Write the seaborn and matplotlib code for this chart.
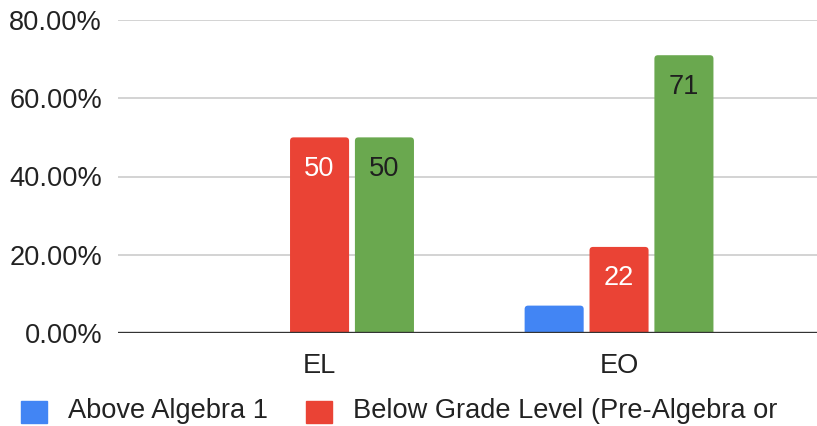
import matplotlib
matplotlib.use("Agg")
import matplotlib.pyplot as plt
import seaborn as sns
import pandas as pd
from matplotlib.patches import FancyBboxPatch
from matplotlib.ticker import FixedLocator, FuncFormatter

# Share of students by math placement, per language group
categories = ["EL", "EO"]
series_names = [
    "Above Algebra 1",
    "Below Grade Level (Pre-Algebra or lower)",
    "At Grade Level (Algebra 1)",
]
above_algebra = [0, 7]
below_grade = [50, 22]
at_grade = [50, 71]
series_values = [above_algebra, below_grade, at_grade]
series_colors = ["#4285F4", "#EA4335", "#6AA84F"]
label_colors = [None, "#FFFFFF", "#1F1F1F"]   # None: value not printed
y_ticks = [0, 20, 40, 60, 80]

rows = []
for name, vals in zip(series_names, series_values):
    for cat, v in zip(categories, vals):
        rows.append({"group": cat, "series": name, "pct": v})
df = pd.DataFrame(rows)

sns.set_theme(style="white")
plt.rcParams["font.family"] = ["Liberation Sans", "DejaVu Sans"]
FS = 19.6
TEXT = "#222222"

W, H = 817, 426
fig = plt.figure(figsize=(W / 100, H / 100), dpi=100)
ax = fig.add_axes([118 / W, 1 - 333 / H, 1 - 118 / W, (333 - 20) / H])

sns.barplot(
    data=df, x="group", y="pct", hue="series",
    hue_order=series_names, order=categories,
    palette=series_colors, saturation=1,
    width=0.65, gap=0.09, legend=False, ax=ax, zorder=2,
)

XMIN, XMAX, YMAX = -0.673, 1.661, 80
ax.set_xlim(XMIN, XMAX)
ax.set_ylim(0, YMAX)

# swap the plain bars for ones with slightly rounded tops
ax_w_px = W * (1 - 118 / W)
ax_h_px = 333 - 20
x_per_px = (XMAX - XMIN) / ax_w_px
y_per_px = YMAX / ax_h_px
radius = 3.5 * x_per_px
for container in ax.containers:
    for bar in container:
        if bar.get_height() <= 0:
            continue
        x0, w, h = bar.get_x(), bar.get_width(), bar.get_height()
        extra = 5 * y_per_px  # tucked below the baseline, clipped away
        rounded = FancyBboxPatch(
            (x0, -extra), w, h + extra,
            boxstyle=f"round,pad=0,rounding_size={radius}",
            mutation_aspect=y_per_px / x_per_px,
            facecolor=bar.get_facecolor(), edgecolor="none",
            zorder=2, clip_on=True,
        )
        ax.add_patch(rounded)
        bar.set_visible(False)

# value labels inside the top of the bars
for container, vals, col in zip(ax.containers, series_values, label_colors):
    if col is None:
        continue
    for bar, v in zip(container, vals):
        ax.annotate(
            f"{v:.0f}",
            xy=(bar.get_x() + bar.get_width() / 2, v),
            xytext=(0, -18.5 * 0.72), textcoords="offset points",
            ha="center", va="top", fontsize=FS, color=col, zorder=4,
        )

ax.yaxis.set_major_locator(FixedLocator(y_ticks))
ax.yaxis.set_major_formatter(FuncFormatter(lambda v, _: f"{v:.2f}%"))
ax.yaxis.grid(True, color="#CCCCCC", linewidth=1.2, zorder=0)
ax.set_axisbelow(True)
ax.axhline(0, color="#333333", linewidth=1.7, zorder=3)
for s in ax.spines.values():
    s.set_visible(False)
ax.tick_params(axis="y", length=0, pad=11.5, labelsize=FS, labelcolor=TEXT)
ax.tick_params(axis="x", length=0, pad=14.5, labelsize=FS, labelcolor=TEXT)
ax.set_xlabel("")
ax.set_ylabel("")

# legend along the bottom edge: two entries per row, long labels wrap;
# the first row's labels share the same three-line layout so they line up
handles = [plt.Rectangle((0, 0), 1, 1, color=c) for c in series_colors]
labels = [
    "\n" + series_names[0] + "\n",
    "\nBelow Grade Level (Pre-Algebra or\nlower)",
    "At Grade Level\n(Algebra 1)",
]
order = [0, 2, 1]   # column-major fill: blue, green in col 1; red in col 2
fig.legend(
    [handles[i] for i in order], [labels[i] for i in order],
    loc="upper left",
    bbox_to_anchor=(21 / W, 1 - 368.5 / H),
    ncol=2, frameon=False, fontsize=FS,
    handlelength=0.95, handleheight=0.9, handletextpad=0.78,
    columnspacing=1.4, labelspacing=0.3, borderpad=0, borderaxespad=0,
    labelcolor=TEXT,
)

fig.savefig("out.png", dpi=100)
